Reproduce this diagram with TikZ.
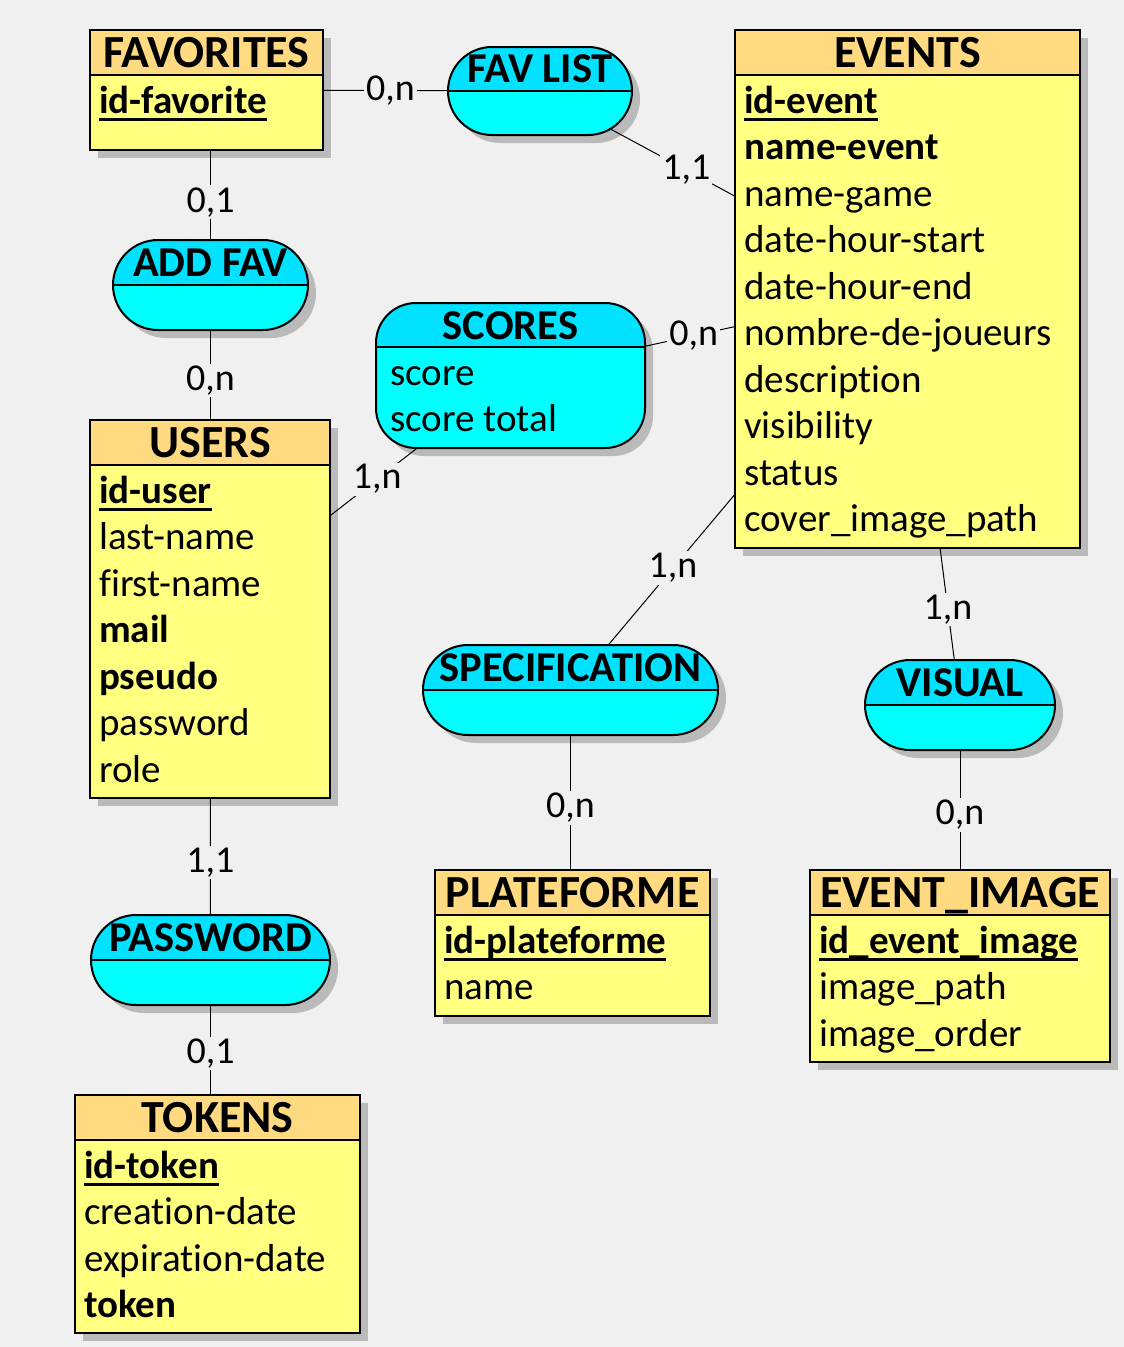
\documentclass[tikz,border=0pt]{standalone}
\usepackage{fontspec}
\setmainfont{Carlito}[Ligatures=NoCommon]
\usetikzlibrary{shapes.misc,shadows}

\definecolor{bggray}{RGB}{240,240,240}
\definecolor{enthead}{RGB}{255,218,128}
\definecolor{entbody}{RGB}{255,255,128}
\definecolor{relhead}{RGB}{0,226,255}
\definecolor{relbody}{RGB}{0,255,255}

% key attribute: bold text with a thick underline
\newcommand{\pk}[1]{\setbox0\hbox{\textbf{#1}}\rlap{\rule[-7.5pt]{\wd0}{2.5pt}}\box0}

\tikzset{
  shadowed/.style={drop shadow={shadow xshift=8pt, shadow yshift=-8pt, fill=black!27, opacity=1}},
  entity/.style={draw, line width=2pt, fill=entbody, anchor=north west, inner sep=0pt, outer sep=0pt, shadowed},
  entityhead/.style={draw, line width=2pt, fill=enthead, anchor=north, minimum height=45pt, inner sep=0pt, outer sep=0pt,
    text depth=0pt, font=\fontsize{46}{52}\selectfont\bfseries},
  relbase/.style={draw, line width=2pt, fill=relbody, inner sep=0pt, outer sep=0pt, shadowed},
  relation/.style={relbase, rounded rectangle, minimum height=90pt,
    path picture={
      \fill[relhead] (path picture bounding box.north west) rectangle (path picture bounding box.east);
      \draw[line width=2pt] (path picture bounding box.west) -- (path picture bounding box.east);
    }},
  reltitle/.style={inner sep=0pt, text depth=0pt, font=\fontsize{42.5}{48}\selectfont\bfseries},
  attr/.style={anchor=base west, inner sep=0pt, font=\fontsize{39}{46}\selectfont},
  card/.style={fill=bggray, inner sep=2pt, font=\fontsize{38}{44}\selectfont},
  link/.style={line width=1pt},
}

\begin{document}
\begin{tikzpicture}[x=1pt,y=-1pt]
  % page and background
  \useasboundingbox (0,0) rectangle (1124,1347);
  \fill[bggray] (0,0) rectangle (1124,1347);

  % FAVORITES
  \node[entity, minimum width=233, minimum height=120] (fav) at (90,30) {};
  \node[entityhead, minimum width=233] (favh) at (fav.north) {FAVORITES};
  \node[attr] (fav1) at (99,113) {\pk{id-favorite}};

  % EVENTS
  \node[entity, minimum width=345, minimum height=518] (events) at (735,30) {};
  \node[entityhead, minimum width=345] (eventsh) at (events.north) {EVENTS};
  \node[attr] (ev1) at (744,113) {\pk{id-event}};
  \node[attr] (ev2) at (744,159.5) {\textbf{name-event}};
  \node[attr] (ev3) at (744,206) {name-game};
  \node[attr] (ev4) at (744,252.5) {date-hour-start};
  \node[attr] (ev5) at (744,299) {date-hour-end};
  \node[attr] (ev6) at (744,345.5) {nombre-de-joueurs};
  \node[attr] (ev7) at (744,392) {description};
  \node[attr] (ev8) at (744,438.5) {visibility};
  \node[attr] (ev9) at (744,485) {status};
  \node[attr] (ev10) at (744,531.5) {cover\_image\_path};

  % USERS
  \node[entity, minimum width=240, minimum height=378] (users) at (90,420) {};
  \node[entityhead, minimum width=240] (usersh) at (users.north) {USERS};
  \node[attr] (us1) at (99,503) {\pk{id-user}};
  \node[attr] (us2) at (99,549.5) {last-name};
  \node[attr] (us3) at (99,596) {first-name};
  \node[attr] (us4) at (99,642.5) {\textbf{mail}};
  \node[attr] (us5) at (99,689) {\textbf{pseudo}};
  \node[attr] (us6) at (99,735.5) {password};
  \node[attr] (us7) at (99,782) {role};

  % TOKENS
  \node[entity, minimum width=285, minimum height=238] (tokens) at (75,1095) {};
  \node[entityhead, minimum width=285] (tokensh) at (tokens.north) {TOKENS};
  \node[attr] (tk1) at (84,1178) {\pk{id-token}};
  \node[attr] (tk2) at (84,1224.5) {creation-date};
  \node[attr] (tk3) at (84,1271) {expiration-date};
  \node[attr] (tk4) at (84,1317.5) {\textbf{token}};

  % PLATEFORME
  \node[entity, minimum width=275, minimum height=146] (plat) at (435,870) {};
  \node[entityhead, minimum width=275] (plath) at (plat.north) {PLATEFORME};
  \node[attr] (pl1) at (444,953) {\pk{id-plateforme}};
  \node[attr] (pl2) at (444,999.5) {name};

  % EVENT_IMAGE
  \node[entity, minimum width=300, minimum height=192] (eimg) at (810,870) {};
  \node[entityhead, minimum width=300] (eimgh) at (eimg.north) {EVENT\_IMAGE};
  \node[attr] (ei1) at (819,953) {\pk{id\_event\_image}};
  \node[attr] (ei2) at (819,999.5) {image\_path};
  \node[attr] (ei3) at (819,1046) {image\_order};

  % associations
  \node[relation, minimum width=184, minimum height=88] (favlist) at (540,91) {};
  \node[reltitle] (favlistt) at ([yshift=22pt]favlist.center) {FAV LIST};

  \node[relation, minimum width=195] (addfav) at (210.5,285) {};
  \node[reltitle] (addfavt) at ([yshift=22pt]addfav.center) {ADD FAV};

  \node[relation, minimum width=239] (password) at (210.5,960) {};
  \node[reltitle] (passwordt) at ([yshift=22pt]password.center) {PASSWORD};

  \node[relation, minimum width=295] (spec) at (570.5,690) {};
  \node[reltitle] (spect) at ([yshift=22pt]spec.center) {SPECIFICATION};

  \node[relation, minimum width=190] (visual) at (960,705) {};
  \node[reltitle] (visualt) at ([yshift=22pt]visual.center) {VISUAL};

  % SCORES carries attributes
  \node[relbase, rounded corners=40pt, minimum width=269, minimum height=145,
    path picture={
      \fill[relhead, sharp corners] (path picture bounding box.north west) rectangle ([yshift=-44pt]path picture bounding box.north east);
      \draw[line width=2pt, sharp corners] ([yshift=-44pt]path picture bounding box.north west) -- ([yshift=-44pt]path picture bounding box.north east);
    }] (scores) at (510.5,375.5) {};
  \node[reltitle] (scorest) at ([yshift=-23pt]scores.north) {SCORES};
  \node[attr] (sc1) at (390,385) {score};
  \node[attr] (sc2) at (390,431.5) {score total};

  % links and cardinalities
  \draw[link] (fav) -- node[card, pos=.54] (c1) {0,n} (favlist);
  \draw[link] (favlist) -- node[card, pos=.61] (c2) {1,1} (events);
  \draw[link] (addfav) -- node[card, pos=.42] (c3) {0,1} (fav.south -| addfav);
  \draw[link] (addfav) -- node[card, pos=.56] (c4) {0,n} (users.north -| addfav);
  \draw[link] (scores) -- node[card, pos=.54] (c5) {0,n} (events);
  \draw[link] (scores) -- node[card, pos=.46] (c6) {1,n} (users);
  \draw[link] (events) -- node[card, pos=.49] (c7) {1,n} (spec);
  \draw[link] (events) -- node[card, pos=.55] (c8) {1,n} (visual);
  \draw[link] (spec) -- node[card, pos=.54] (c9) {0,n} (plat.north -| spec);
  \draw[link] (visual) -- node[card, pos=.54] (c10) {0,n} (eimg);
  \draw[link] (users) -- node[card, pos=.55] (c11) {1,1} (password);
  \draw[link] (password) -- node[card, pos=.54] (c12) {0,1} (tokens.north -| password);
\end{tikzpicture}
\end{document}
